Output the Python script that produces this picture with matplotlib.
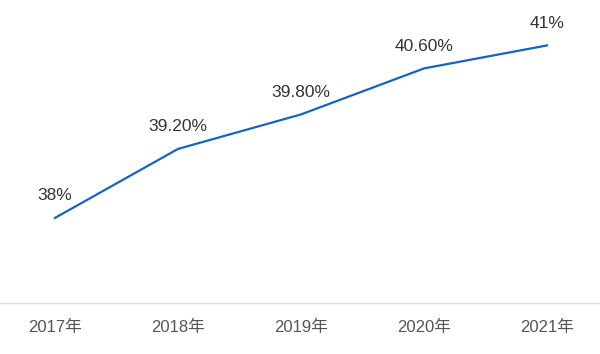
import matplotlib
matplotlib.use("Agg")
import matplotlib.pyplot as plt
import numpy as np

plt.rcParams['font.family'] = ['Liberation Sans', 'Noto Sans CJK SC', 'DejaVu Sans']

years = ['2017年', '2018年', '2019年', '2020年', '2021年']
values = [38.0, 39.2, 39.8, 40.6, 41.0]
labels = ['38%', '39.20%', '39.80%', '40.60%', '41%']

fig = plt.figure(figsize=(6, 3.54), dpi=100)
ax = fig.add_axes([0, 51 / 354, 1, 303 / 354])

x = np.arange(len(values))
ax.plot(x, values, color='#1565c0', linewidth=1.6)

for xi, v, lab in zip(x, values, labels):
    ax.annotate(lab, (xi, v), xytext=(0, 22), textcoords='offset pixels',
                ha='center', va='center', fontsize=12.5, color='#333333')

ax.set_xlim(-55 / 123, 4 + 53 / 123)
ax.set_ylim(36.52, 41.79)

ax.set_xticks(x)
ax.set_xticklabels(years, fontsize=12, color='#555555')
ax.tick_params(axis='x', length=0, pad=12)
ax.set_yticks([])

for s in ['top', 'left', 'right']:
    ax.spines[s].set_visible(False)
ax.spines['bottom'].set_color('#dddddd')
ax.spines['bottom'].set_linewidth(1)

fig.savefig('out.png', dpi=100)
